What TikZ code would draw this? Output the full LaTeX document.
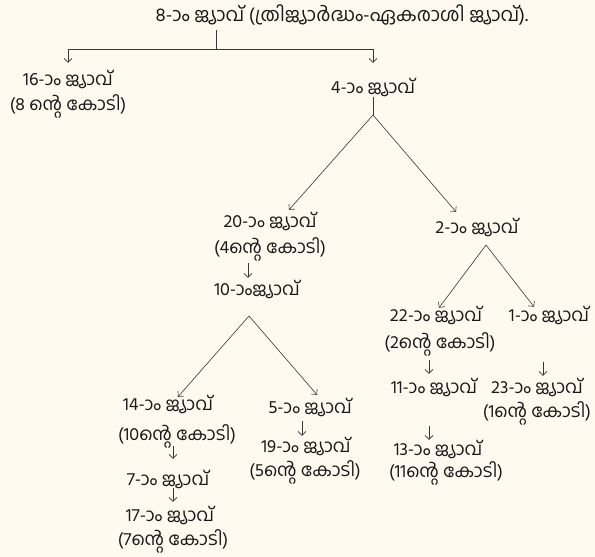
\documentclass[tikz,border=0pt]{standalone}
\usepackage{fontspec}
\newfontfamily\mal[Script=Malayalam]{Hind Kochi}
\usetikzlibrary{arrows.meta}
\definecolor{bg}{RGB}{254,250,240}
\definecolor{ink}{RGB}{25,25,25}
\definecolor{lnc}{RGB}{55,55,55}
\begin{document}
\begin{tikzpicture}[x=1pt,y=-1pt,
  lab/.style={font=\mal\fontsize{18}{20}\selectfont, text=ink, inner sep=0pt, text height=11.5pt, text depth=1.5pt},
  ln/.style={draw=lnc, line width=0.6pt},
  arr/.style={ln, -{Straight Barb[length=4pt,width=8pt]}}]
\fill[bg] (0,0) rectangle (595,557);
\useasboundingbox (0,0) rectangle (595,557);
% nodes
\node[lab, font=\mal\fontsize{19}{21}\selectfont] (top) at (342,16) {8-ാം ജ്യാവ് (ത്രിജ്യാർദ്ധം-ഏകരാശി ജ്യാവ്).};
\node[lab] (n16a) at (68,80) {16-ാം ജ്യാവ്};
\node[lab] (n16b) at (68,105) {(8 ന്റെ കോടി)};
\node[lab] (n4) at (373,88) {4-ാം ജ്യാവ്};
\node[lab] (n20a) at (270,222) {20-ാം ജ്യാവ്};
\node[lab] (n20b) at (270,248) {(4ന്റെ കോടി)};
\node[lab] (n10) at (257,290) {10-ാംജ്യാവ്};
\node[lab] (n2) at (477,228) {2-ാം ജ്യാവ്};
\node[lab] (n14a) at (168,405) {14-ാം ജ്യാവ്};
\node[lab] (n14b) at (177,435) {(10ന്റെ കോടി)};
\node[lab] (n7) at (168,480) {7-ാം ജ്യാവ്};
\node[lab] (n17a) at (170,516) {17-ാം ജ്യാവ്};
\node[lab] (n17b) at (173,540) {(7ന്റെ കോടി)};
\node[lab] (n5) at (310,408) {5-ാം ജ്യാവ്};
\node[lab] (n19a) at (306,447) {19-ാം ജ്യാവ്};
\node[lab] (n19b) at (305,471) {(5ന്റെ കോടി)};
\node[lab] (n22a) at (436,316) {22-ാം ജ്യാവ്};
\node[lab] (n22b) at (440,343) {(2ന്റെ കോടി)};
\node[lab] (n1) at (549,316) {1-ാം ജ്യാവ്};
\node[lab] (n11) at (434,388) {11-ാം ജ്യാവ്};
\node[lab] (n23a) at (537,388) {23-ാം ജ്യാവ്};
\node[lab] (n23b) at (537,412) {(1ന്റെ കോടി)};
\node[lab] (n13a) at (438,450) {13-ാം ജ്യാവ്};
\node[lab] (n13b) at (446,472) {(11ന്റെ കോടി)};
% junctions
\coordinate (j) at (216,49);
\coordinate (ap4) at (373,115);
\coordinate (ap2) at (486,245);
\coordinate (ap10) at (249,316);
\coordinate (xa) at (248,0);
\coordinate (xb) at (173,0);
\coordinate (xd) at (302,0);
\coordinate (xe) at (429,0);
\coordinate (xf) at (543,0);
% top split
\draw[ln, shorten <=7.5pt] (top.south -| j) -- (j);
\draw[arr, shorten >=10.5pt] (j) -| (n16a.north);
\draw[arr, shorten >=18.5pt] (j) -| (n4.north);
% branch from 4
\draw[ln, shorten <=2.5pt] (n4.south) -- (ap4);
\draw[arr] (ap4) -- ([xshift=19pt,yshift=5.5pt]n20a.north);
\draw[arr] (ap4) -- ([xshift=-21pt,yshift=9.5pt]n2.north);
% branch from 2
\draw[arr] (ap2) -- ([xshift=3pt,yshift=1.5pt]n22a.north);
\draw[arr] (ap2) -- ([xshift=-15pt,yshift=2.5pt]n1.north);
% branch from 10
\draw[arr] (ap10) -- ([xshift=10pt,yshift=1.5pt]n14a.north);
\draw[arr] (ap10) -- ([xshift=7pt,yshift=6.5pt]n5.north);
% short down arrows
\draw[arr, shorten <=8.5pt, shorten >=5.5pt] (n20b.south -| xa) -- (n10.north -| xa);
\draw[arr, shorten <=4.5pt, shorten >=14.5pt] (n14b.south -| xb) -- (n7.north -| xb);
\draw[arr, shorten <=1.5pt, shorten >=7.5pt] (n7.south -| xb) -- (n17a.north -| xb);
\draw[arr, shorten <=6.5pt, shorten >=4.5pt] (n5.south -| xd) -- (n19a.north -| xd);
\draw[arr, shorten <=10.5pt, shorten >=7.5pt] (n22b.south -| xe) -- (n11.north -| xe);
\draw[arr, shorten <=39.5pt, shorten >=5.5pt] (n1.south -| xf) -- (n23a.north -| xf);
\draw[arr, shorten <=31.5pt, shorten >=3.5pt] (n11.south -| xe) -- (n13a.north -| xe);
\end{tikzpicture}
\end{document}
